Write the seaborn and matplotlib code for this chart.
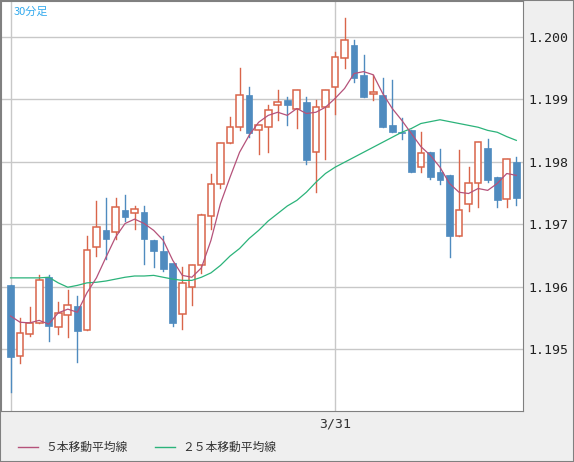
import numpy as np
import pandas as pd
import matplotlib
matplotlib.use("Agg")
import matplotlib.pyplot as plt
from matplotlib.lines import Line2D
from matplotlib.patches import Rectangle
import seaborn as sns

# 30-minute candles
opens = [1.19602, 1.19489, 1.19524, 1.19542, 1.19615, 1.19535, 1.19554, 1.19569, 1.19530, 1.19663,
         1.19690, 1.19687, 1.19722, 1.19717, 1.19719, 1.19674, 1.19657, 1.19637, 1.19556, 1.19599,
         1.19634, 1.19713, 1.19764, 1.19829, 1.19855, 1.19907, 1.19851, 1.19855, 1.19891, 1.19899,
         1.19885, 1.19895, 1.19815, 1.19887, 1.19919, 1.19966, 1.19987, 1.19939, 1.19909, 1.19906,
         1.19858, 1.19847, 1.19851, 1.19791, 1.19816, 1.19783, 1.19778, 1.19681, 1.19732, 1.19765,
         1.19821, 1.19775, 1.19740, 1.19799]
highs = [1.19602, 1.19550, 1.19567, 1.19618, 1.19618, 1.19575, 1.19594, 1.19585, 1.19681, 1.19737,
         1.19741, 1.19741, 1.19746, 1.19729, 1.19729, 1.19674, 1.19681, 1.19637, 1.19631, 1.19634,
         1.19716, 1.19780, 1.19829, 1.19872, 1.19950, 1.19920, 1.19859, 1.19891, 1.19914, 1.19904,
         1.19915, 1.19904, 1.19899, 1.19915, 1.19976, 1.20029, 1.19995, 1.19971, 1.19939, 1.19933,
         1.19931, 1.19869, 1.19851, 1.19848, 1.19816, 1.19820, 1.19778, 1.19818, 1.19792, 1.19831,
         1.19837, 1.19775, 1.19804, 1.19808]
lows = [1.19431, 1.19478, 1.19521, 1.19542, 1.19513, 1.19524, 1.19519, 1.19479, 1.19530, 1.19649,
        1.19644, 1.19677, 1.19705, 1.19692, 1.19637, 1.19631, 1.19625, 1.19537, 1.19532, 1.19570,
        1.19622, 1.19692, 1.19757, 1.19829, 1.19851, 1.19839, 1.19812, 1.19815, 1.19867, 1.19859,
        1.19853, 1.19797, 1.19752, 1.19804, 1.19877, 1.19950, 1.19927, 1.19903, 1.19899, 1.19856,
        1.19847, 1.19837, 1.19783, 1.19783, 1.19773, 1.19764, 1.19647, 1.19681, 1.19721, 1.19728,
        1.19767, 1.19728, 1.19728, 1.19730]
closes = [1.19487, 1.19526, 1.19542, 1.19610, 1.19537, 1.19558, 1.19570, 1.19529, 1.19658, 1.19695,
          1.19676, 1.19727, 1.19711, 1.19724, 1.19676, 1.19657, 1.19628, 1.19542, 1.19606, 1.19634,
          1.19714, 1.19764, 1.19829, 1.19855, 1.19907, 1.19845, 1.19859, 1.19883, 1.19895, 1.19891,
          1.19915, 1.19802, 1.19888, 1.19914, 1.19968, 1.19994, 1.19933, 1.19903, 1.19912, 1.19856,
          1.19847, 1.19845, 1.19783, 1.19813, 1.19776, 1.19770, 1.19681, 1.19722, 1.19765, 1.19831,
          1.19770, 1.19738, 1.19804, 1.19741]
ma5 = [1.19553, 1.19543, 1.19542, 1.19546, 1.19540, 1.19558, 1.19564, 1.19559, 1.19590, 1.19614,
       1.19647, 1.19679, 1.19701, 1.19708, 1.19701, 1.19690, 1.19674, 1.19642, 1.19618, 1.19615,
       1.19630, 1.19674, 1.19733, 1.19775, 1.19815, 1.19842, 1.19863, 1.19874, 1.19879, 1.19874,
       1.19885, 1.19877, 1.19879, 1.19887, 1.19901, 1.19917, 1.19941, 1.19944, 1.19939, 1.19909,
       1.19885, 1.19866, 1.19845, 1.19824, 1.19810, 1.19791, 1.19765, 1.19751, 1.19749, 1.19757,
       1.19754, 1.19765, 1.19781, 1.19778]
ma25 = [1.19614, 1.19614, 1.19614, 1.19614, 1.19615, 1.19606, 1.19599, 1.19602, 1.19606, 1.19607,
        1.19609, 1.19612, 1.19615, 1.19617, 1.19617, 1.19618, 1.19615, 1.19612, 1.19610, 1.19610,
        1.19615, 1.19622, 1.19634, 1.19649, 1.19661, 1.19677, 1.19690, 1.19705, 1.19717, 1.19729,
        1.19738, 1.19751, 1.19767, 1.19781, 1.19791, 1.19799, 1.19807, 1.19815, 1.19823, 1.19831,
        1.19839, 1.19847, 1.19853, 1.19861, 1.19864, 1.19867, 1.19864, 1.19861, 1.19858, 1.19855,
        1.19850, 1.19847, 1.19840, 1.19834]
y_ticks = [1.195, 1.196, 1.197, 1.198, 1.199, 1.200]
date_pos = 34
date_label = "3/31"

RED = "#d9654a"
BLUE = "#4f8bbf"
C_MA5 = "#b5527a"
C_MA25 = "#2bb37a"

df = pd.DataFrame({"i": np.arange(len(opens)), "o": opens, "h": highs, "l": lows,
                   "c": closes, "ma5": ma5, "ma25": ma25})

fig = plt.figure(figsize=(5.74, 4.62), dpi=100, facecolor="#efefef")
ax = fig.add_axes([1 / 574, 1 - 411 / 462, 522 / 574, 410 / 462])
ax.set_facecolor("white")

ax.set_xlim(-1.0, 53.7)
ax.set_ylim(1.19401, 1.20057)
for y in y_ticks:
    ax.axhline(y, color="#c8c8c8", lw=1, zorder=0)
for x in [0, date_pos]:
    ax.axvline(x, color="#c8c8c8", lw=1, zorder=0)

w = 0.7
for r in df.itertuples():
    up = r.c >= r.o
    col = RED if up else BLUE
    ax.plot([r.i, r.i], [r.l, r.h], color=col, lw=1, zorder=2)
    lo, hi = min(r.o, r.c), max(r.o, r.c)
    hgt = max(hi - lo, 0.00002)
    if up:
        ax.add_patch(Rectangle((r.i - w / 2, lo), w, hgt, facecolor="white",
                               edgecolor=RED, lw=1.1, zorder=3))
    else:
        ax.add_patch(Rectangle((r.i - w / 2, lo), w, hgt, facecolor=BLUE,
                               edgecolor=BLUE, lw=0.5, zorder=3))

sns.lineplot(data=df, x="i", y="ma25", color=C_MA25, lw=0.9, ax=ax, zorder=4)
sns.lineplot(data=df, x="i", y="ma5", color=C_MA5, lw=0.9, ax=ax, zorder=4)

ax.set_xlabel("")
ax.set_ylabel("")
ax.set_xticks([date_pos])
ax.set_xticklabels([date_label], family="DejaVu Sans Mono", fontsize=9.5, color="#333333")
ax.set_yticks(y_ticks)
ax.set_yticklabels([f"{v:.3f}" for v in y_ticks], family="DejaVu Sans Mono",
                   fontsize=9.5, color="#222222")
ax.yaxis.tick_right()
ax.tick_params(length=0, pad=4)
ax.tick_params(axis="x", pad=5)
for s in ax.spines.values():
    s.set_color("#808080")

ax.text(0.024, 0.985, "30分足", transform=ax.transAxes, ha="left", va="top",
        color="#33aaee", fontsize=8, family=["Noto Sans CJK JP", "DejaVu Sans"])

# legend in the bottom band
ly = 1 - 447 / 462
for x0, col, lab in [(18, C_MA5, "５本移動平均線"), (155, C_MA25, "２５本移動平均線")]:
    fig.add_artist(Line2D([x0 / 574, (x0 + 20) / 574], [ly, ly], color=col, lw=1))
    fig.text((x0 + 27) / 574, ly, lab, va="center", ha="left", fontsize=8.5,
             color="#333333", family=["Noto Sans CJK JP", "DejaVu Sans"])

fig.add_artist(Rectangle((0, 0), 1, 1, transform=fig.transFigure, fill=False,
                         edgecolor="#808080", lw=1.5))
fig.savefig("out.png", dpi=100, facecolor=fig.get_facecolor())
